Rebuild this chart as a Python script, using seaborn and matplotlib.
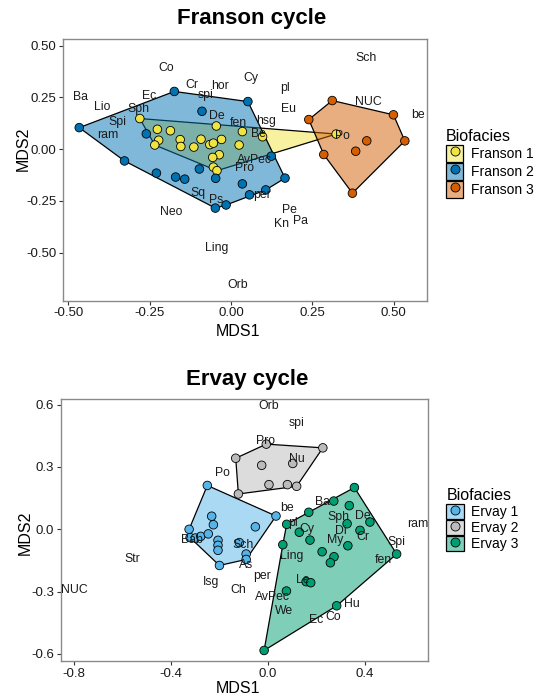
import numpy as np
import pandas as pd
import matplotlib
matplotlib.use("Agg")
import matplotlib.pyplot as plt
import seaborn as sns
from matplotlib.patches import Patch
from matplotlib.lines import Line2D
from matplotlib.colors import to_rgba

# --------------------
# Franson cycle: NMDS sample scores per biofacies
# --------------------
fr1_x = [-0.280, -0.226, -0.186, -0.222, -0.234, -0.156, -0.154, -0.114, -0.092, -0.065, -0.054,
         -0.029, -0.045, 0.035, 0.025, 0.097, -0.036, -0.056, -0.054, -0.043, 0.323]
fr1_y = [0.148, 0.096, 0.089, 0.043, 0.020, 0.046, 0.013, 0.010, 0.048, 0.022, 0.029,
         0.047, 0.112, 0.085, 0.020, 0.060, -0.027, -0.040, -0.087, -0.104, 0.073]
fr2_x = [-0.466, -0.174, 0.052, -0.089, -0.260, -0.327, -0.229, -0.170, -0.142, -0.097, -0.047,
         0.035, 0.057, 0.107, 0.166, 0.124, -0.048, -0.015]
fr2_y = [0.104, 0.279, 0.230, 0.183, 0.074, -0.057, -0.116, -0.135, -0.145, -0.096, -0.141,
         -0.168, -0.221, -0.197, -0.140, -0.034, -0.285, -0.270]
fr3_x = [0.311, 0.239, 0.285, 0.373, 0.534, 0.499, 0.417, 0.383]
fr3_y = [0.235, 0.143, -0.026, -0.213, 0.040, 0.166, 0.040, -0.010]

# Franson species scores
fr_sp = ["Co", "Cr", "hor", "spi", "Cy", "Ba", "Lio", "Ec", "Sph", "Spi", "ram", "De", "fen", "hsg",
         "Be", "AvPec", "Pro", "Sq", "Ps", "per", "Neo", "Ling", "Orb", "pl", "Eu", "Sch", "NUC",
         "be", "Po", "Pe", "Pa", "Kn"]
fr_sp_x = [-0.198, -0.119, -0.034, -0.078, 0.061, -0.462, -0.394, -0.252, -0.285, -0.349, -0.377,
           -0.042, 0.022, 0.107, 0.084, 0.072, 0.043, -0.102, -0.046, 0.094, -0.185, -0.044, 0.021,
           0.166, 0.178, 0.414, 0.423, 0.575, 0.343, 0.179, 0.213, 0.156]
fr_sp_y = [0.390, 0.311, 0.303, 0.261, 0.342, 0.250, 0.205, 0.258, 0.192, 0.129, 0.069,
           0.158, 0.126, 0.137, 0.073, -0.053, -0.089, -0.210, -0.247, -0.223, -0.302, -0.476, -0.657,
           0.295, 0.196, 0.443, 0.229, 0.164, 0.064, -0.294, -0.348, -0.363]

# --------------------
# Ervay cycle
# --------------------
er1_x = [-0.249, -0.324, -0.320, -0.298, -0.276, -0.245, -0.231, -0.224, -0.205, -0.205, -0.205,
         -0.199, -0.051, 0.034, -0.117, -0.089, -0.089]
er1_y = [0.211, 0.000, -0.040, -0.042, -0.034, -0.022, 0.063, 0.022, -0.053, -0.077, -0.101,
         -0.174, 0.012, 0.064, -0.064, -0.119, -0.145]
er2_x = [-0.132, -0.006, 0.227, 0.119, 0.081, 0.005, -0.121, -0.025, 0.103]
er2_y = [0.342, 0.410, 0.392, 0.207, 0.215, 0.215, 0.170, 0.308, 0.317]
er3_x = [0.357, 0.272, 0.336, 0.169, 0.421, 0.327, 0.380, 0.531, 0.078, 0.130, 0.174, 0.062,
         0.224, 0.273, 0.258, 0.330, 0.158, 0.177, 0.077, 0.284, -0.015]
er3_y = [0.201, 0.136, 0.114, 0.082, 0.035, 0.027, -0.005, -0.119, 0.024, -0.014, -0.052, -0.074,
         -0.108, -0.132, -0.161, -0.079, -0.252, -0.257, -0.297, -0.368, -0.583]

er_sp = ["Orb", "spi", "Pro", "Nu", "Po", "be", "Ba", "pl", "Cy", "Sph", "De", "Di", "Cr", "My",
         "ram", "Spi", "fen", "Ling", "Le", "Sch", "As", "per", "Isg", "Ch", "AvPec", "We", "Ec",
         "Co", "Hu", "Bab", "Str", "NUC"]
er_sp_x = [0.004, 0.119, -0.011, 0.119, -0.187, 0.078, 0.225, 0.105, 0.161, 0.291, 0.391, 0.301,
           0.391, 0.277, 0.617, 0.529, 0.478, 0.097, 0.143, -0.100, -0.091, -0.022, -0.233, -0.121,
           0.019, 0.067, 0.201, 0.270, 0.346, -0.314, -0.557, -0.797]
er_sp_y = [0.594, 0.512, 0.426, 0.339, 0.271, 0.103, 0.132, 0.030, 0.003, 0.059, 0.064, -0.006,
           -0.039, -0.053, 0.024, -0.061, -0.148, -0.130, -0.246, -0.076, -0.170, -0.227, -0.254,
           -0.291, -0.326, -0.394, -0.435, -0.423, -0.361, -0.053, -0.141, -0.291]

fr_names = ["Franson 1", "Franson 2", "Franson 3"]
er_names = ["Ervay 1", "Ervay 2", "Ervay 3"]
fr_colors = ["#F0E442", "#0072B2", "#D55E00"]
er_colors = ["#56B4E9", "#BBBBBB", "#009E73"]

sns.set_style("ticks")
plt.rcParams["font.family"] = ["Liberation Sans", "DejaVu Sans"]
plt.rcParams["axes.unicode_minus"] = False
plt.rcParams["text.color"] = "black"
plt.rcParams["axes.labelcolor"] = "black"


def hull(xs, ys):
    # monotone chain convex hull
    pts = sorted(set(zip(xs, ys)))
    def cross(o, a, b):
        return (a[0] - o[0]) * (b[1] - o[1]) - (a[1] - o[1]) * (b[0] - o[0])
    lower, upper = [], []
    for p in pts:
        while len(lower) >= 2 and cross(lower[-2], lower[-1], p) <= 0:
            lower.pop()
        lower.append(p)
    for p in reversed(pts):
        while len(upper) >= 2 and cross(upper[-2], upper[-1], p) <= 0:
            upper.pop()
        upper.append(p)
    h = lower[:-1] + upper[:-1]
    return [p[0] for p in h], [p[1] for p in h]


def panel(ax, groups, names, colors, sp, sp_x, sp_y, title, title_x, xlim, ylim,
          xticks, yticks, fmt, ylab_pos, xlab_pos, leg_anchor, key_h, leg_sp):
    for (gx, gy), c in zip(groups, colors):
        hx, hy = hull(gx, gy)
        ax.fill(hx, hy, facecolor=to_rgba(c, 0.5), edgecolor="black", lw=0.9, zorder=1)

    df = pd.concat([pd.DataFrame({"MDS1": gx, "MDS2": gy, "Biofacies": n})
                    for (gx, gy), n in zip(groups, names)])
    sns.scatterplot(data=df, x="MDS1", y="MDS2", hue="Biofacies", palette=dict(zip(names, colors)),
                    s=38, edgecolor="black", linewidth=0.6, legend=False, zorder=3, ax=ax)

    for t, x, y in zip(sp, sp_x, sp_y):
        ax.text(x, y, t, ha="center", va="center", fontsize=8.8, color="#1a1a1a", zorder=4)

    ax.set_xlim(*xlim)
    ax.set_ylim(*ylim)
    ax.set_xticks(xticks)
    ax.set_yticks(yticks)
    ax.set_xticklabels([fmt % v for v in xticks])
    ax.set_yticklabels([fmt % v for v in yticks])
    ax.tick_params(direction="out", length=3, width=0.8, color="#333333", labelsize=9.5,
                   labelcolor="#1a1a1a", pad=2)
    for s in ax.spines.values():
        s.set_visible(True)
        s.set_color("#8a8a8a")
        s.set_linewidth(1.0)

    ax.set_xlabel("MDS1", fontsize=11.5)
    ax.set_ylabel("MDS2", fontsize=11.5)
    ax.xaxis.set_label_coords(*xlab_pos)
    ax.yaxis.set_label_coords(*ylab_pos)
    ax.xaxis.label.set_verticalalignment("center")
    ax.yaxis.label.set_verticalalignment("center")
    ax.set_title(title, fontsize=16, fontweight="bold", x=title_x[0], y=title_x[1],
                 va="center", pad=0, color="black")

    handles = [(Patch(facecolor=to_rgba(c, 0.5), edgecolor="black", lw=0.9),
                Line2D([], [], ls="", marker="o", markersize=6.5, markerfacecolor=c,
                       markeredgecolor="black", markeredgewidth=0.6))
               for c in colors]
    ax.legend(handles, names, title="Biofacies", loc="upper left", bbox_to_anchor=leg_anchor,
              frameon=False, fontsize=10, title_fontsize=11.5, borderpad=0, borderaxespad=0,
              handlelength=1.25, handleheight=key_h, labelspacing=leg_sp, handletextpad=0.55,
              alignment="left")


fig = plt.figure(figsize=(5.47, 6.96), dpi=100)
ax1 = fig.add_axes([0.1157, 0.5682, 0.6643, 0.3753])
ax2 = fig.add_axes([0.1110, 0.0496, 0.6709, 0.3771])

panel(ax1, [(fr1_x, fr1_y), (fr2_x, fr2_y), (fr3_x, fr3_y)], fr_names, fr_colors,
      fr_sp, fr_sp_x, fr_sp_y, "Franson cycle", (0.518, 1.078),
      (-0.515, 0.601), (-0.732, 0.531), [-0.5, -0.25, 0, 0.25, 0.5], [-0.5, -0.25, 0, 0.25, 0.5],
      "%.2f", (-0.110, 0.58), (0.48, -0.119), (1.053, 0.657), 1.55, 0.05)

panel(ax2, [(er1_x, er1_y), (er2_x, er2_y), (er3_x, er3_y)], er_names, er_colors,
      er_sp, er_sp_x, er_sp_y, "Ervay cycle", (0.508, 1.074),
      (-0.853, 0.659), (-0.636, 0.627), [-0.8, -0.4, 0, 0.4], [-0.6, -0.3, 0, 0.3, 0.6],
      "%.1f", (-0.097, 0.491), (0.483, -0.102), (1.051, 0.661), 1.3, 0.05)

fig.savefig("out.png", dpi=100)
